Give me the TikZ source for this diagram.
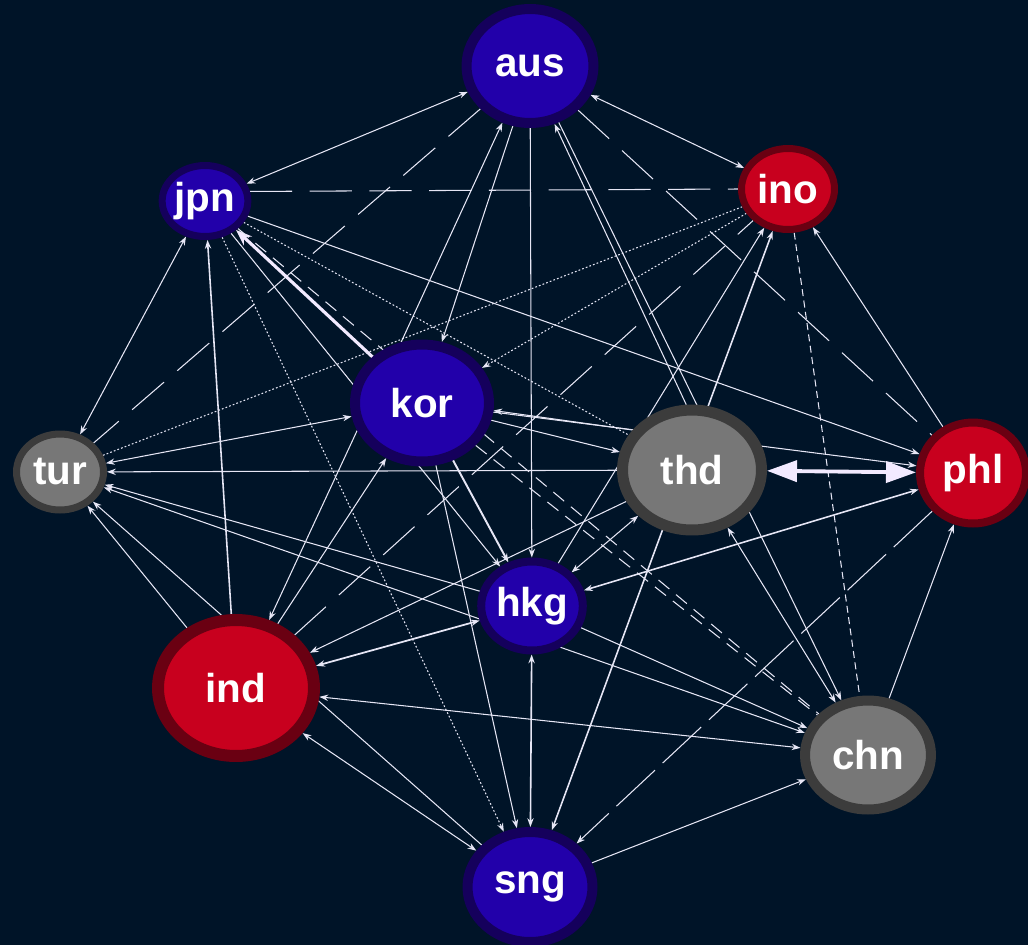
\documentclass[tikz,border=0pt]{standalone}
\usepackage{fontspec}
\setmainfont{Liberation Sans}
\usetikzlibrary{shapes.geometric,arrows.meta}

\definecolor{bgnavy}{HTML}{001428}
\definecolor{bluefill}{HTML}{2200AA}
\definecolor{blueedge}{HTML}{15005C}
\definecolor{redfill}{HTML}{C8001E}
\definecolor{rededge}{HTML}{6A0012}
\definecolor{grayfill}{HTML}{777777}
\definecolor{grayedge}{HTML}{3C3C3C}
\definecolor{linkcol}{HTML}{E6E6F5}
\definecolor{boldcol}{HTML}{F2EAFF}

\pgfdeclarelayer{back}
\pgfdeclarelayer{links}
\pgfsetlayers{back,links,main}

\tikzset{
  country/.style={ellipse, inner sep=0pt, text=white, font=\fontsize{23}{23}\selectfont\bfseries},
  bluecty/.style={country, draw=blueedge, fill=bluefill},
  redcty/.style={country, draw=rededge, fill=redfill},
  graycty/.style={country, draw=grayedge, fill=grayfill},
  link/.style={draw=linkcol, line width=0.6pt},
  dotlink/.style={link, dash pattern=on 1pt off 1.2pt},
  dashlink/.style={link, dash pattern=on 24pt off 10pt},
  shortdash/.style={link, dash pattern=on 8pt off 5pt},
  heavy/.style={draw=boldcol, line width=1.8pt},
  >={Stealth[length=5pt,width=3.6pt]}
}

\begin{document}
\begin{tikzpicture}[x=0.02cm, y=-0.02cm]
    \useasboundingbox (0,0) rectangle (1028,944);
    \begin{pgfonlayer}{back}
        \fill[bgnavy] (-20,-20) rectangle (1050,970);
    \end{pgfonlayer}

    \node[bluecty, minimum width=2.54cm, minimum height=2.28cm, line width=0.2cm] (aus) at (530,66) {aus};
    \node[bluecty, minimum width=1.38cm, minimum height=1.42cm, line width=0.14cm] (jpn) at (205,201) {jpn};
    \node[redcty, minimum width=1.86cm, minimum height=1.62cm, line width=0.14cm] (ino) at (788,189) {ino};
    \node[bluecty, minimum width=2.68cm, minimum height=2.34cm, line width=0.2cm] (kor) at (422,403) {kor};
    \node[graycty, minimum width=1.74cm, minimum height=1.52cm, line width=0.14cm] (tur) at (60,472) {tur};
    \node[graycty, minimum width=2.78cm, minimum height=2.40cm, line width=0.22cm] (thd) at (692,470) {thd};
    \node[redcty, minimum width=2.12cm, minimum height=2.02cm, line width=0.16cm] (phl) at (973,473) {phl};
    \node[bluecty, minimum width=1.98cm, minimum height=1.78cm, line width=0.16cm] (hkg) at (532,606) {hkg};
    \node[redcty, minimum width=3.12cm, minimum height=2.72cm, line width=0.24cm] (ind) at (236,688) {ind};
    \node[graycty, minimum width=2.52cm, minimum height=2.18cm, line width=0.2cm] (chn) at (868,755) {chn};
    \node[bluecty, minimum width=2.50cm, minimum height=2.20cm, line width=0.2cm] (sng) at (530,887) {sng};

    \begin{pgfonlayer}{links}
        \draw[link,<->] (jpn) -- (aus);
        \draw[link,<->] (aus) -- (ino);
        \draw[link,->] (kor.109) -- (aus.244);
        \draw[link,->] (aus.254) -- (kor.72);
        \draw[link,->] (aus) -- (hkg);
        \draw[link,->] (thd.95) -- (aus.293);
        \draw[link,->] (aus.297) -- (chn.116);
        \draw[dashlink] (aus) -- (phl);
        \draw[dashlink] (aus) -- (tur);
        \draw[dashlink] (jpn.12) -- (ino.180);
        \draw[dashlink] (ind) -- (ino);
        \draw[heavy,-{Stealth[length=0.32cm,width=0.24cm]}] (kor) -- (jpn);
        \draw[shortdash] (jpn) -- (chn);
        \draw[shortdash] (kor) -- (chn);
        \draw[link,<->] (tur) -- (jpn);
        \draw[link,->,line width=0.9pt] (ind) -- (jpn);
        \draw[link,->] (jpn) -- (hkg);
        \draw[dotlink,->] (jpn) -- (sng);
        \draw[dotlink] (jpn) -- (thd);
        \draw[link,->] (jpn) -- (phl);
        \draw[link,<->] (tur) -- (kor);
        \draw[dotlink] (tur) -- (ino);
        \draw[link,->] (thd) -- (tur);
        \draw[link,->] (hkg) -- (tur);
        \draw[link,<->] (tur) -- (chn);
        \draw[link,->] (ind) -- (tur);
        \draw[link,->] (sng.139) -- (tur.318);
        \draw[link,<->,line width=1pt] (ind) -- (hkg);
        \draw[link,->] (thd) -- (ind);
        \draw[link,<->] (ind) -- (chn);
        \draw[link,<->] (ind) -- (sng);
        \draw[link,->] (kor.203) -- (ind.64);
        \draw[link,->] (ind.57) -- (kor.237);
        \draw[link,<->,line width=0.9pt] (hkg) -- (sng);
        \draw[link,<->] (hkg) -- (thd);
        \draw[link,->] (hkg) -- (ino);
        \draw[link,<->,line width=0.9pt] (hkg) -- (phl);
        \draw[link,->] (hkg) -- (chn);
        \draw[link,->,line width=1.1pt] (kor) -- (hkg);
        \draw[link,->] (thd.146) -- (kor.354);
        \draw[link,->] (kor.346) -- (thd.166);
        \draw[link,->] (kor) -- (phl);
        \draw[dotlink,->] (ino) -- (kor);
        \draw[link,<->,line width=0.9pt] (ino.250) -- (sng.69);
        \draw[shortdash, dash pattern=on 4pt off 2.5pt] (ino) -- (chn);
        \draw[link,->] (phl) -- (ino);
        \draw[dashlink,->, dash pattern=on 30pt off 6pt] (phl) -- (sng);
        \draw[link,->] (chn) -- (phl);
        \draw[link,->] (sng) -- (chn);
        \draw[link,<->] (thd) -- (chn);
        \draw[link,->] (kor) -- (sng);
        \draw[heavy, line width=2.2pt, {Triangle[length=0.6cm,width=0.42cm]}-{Triangle[length=0.6cm,width=0.42cm]}] (thd) -- (phl);
    \end{pgfonlayer}
\end{tikzpicture}
\end{document}
